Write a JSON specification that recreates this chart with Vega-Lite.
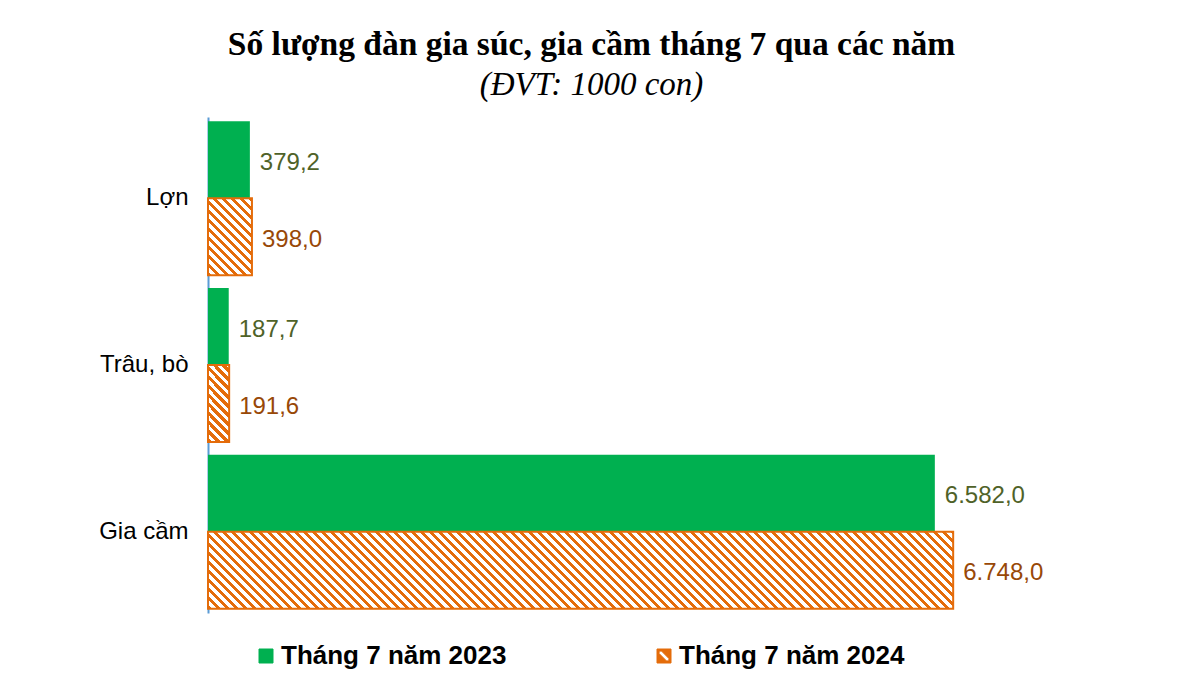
{
  "$schema": "https://vega.github.io/schema/vega-lite/v6.json",
  "width": 773,
  "height": 496,
  "autosize": {"type": "none"},
  "padding": {"left": 208, "top": 117, "right": 220, "bottom": 80},
  "background": "white",
  "title": {
    "text": "Số lượng đàn gia súc, gia cầm tháng 7 qua các năm",
    "subtitle": "(ĐVT: 1000 con)",
    "anchor": "middle",
    "dx": -3,
    "offset": 14,
    "font": "Liberation Serif",
    "fontSize": 33.5,
    "fontWeight": "bold",
    "color": "#000000",
    "subtitleFont": "Liberation Serif",
    "subtitleFontSize": 33,
    "subtitleFontStyle": "italic",
    "subtitleColor": "#000000",
    "subtitlePadding": 7
  },
  "data": {
    "values": [
      {"cat": "Lợn", "series": "Tháng 7 năm 2023", "value": 379.2},
      {"cat": "Lợn", "series": "Tháng 7 năm 2024", "value": 398.0},
      {"cat": "Trâu, bò", "series": "Tháng 7 năm 2023", "value": 187.7},
      {"cat": "Trâu, bò", "series": "Tháng 7 năm 2024", "value": 191.6},
      {"cat": "Gia cầm", "series": "Tháng 7 năm 2023", "value": 6582.0},
      {"cat": "Gia cầm", "series": "Tháng 7 năm 2024", "value": 6748.0}
    ]
  },
  "encoding": {
    "y": {
      "field": "cat",
      "type": "nominal",
      "sort": ["Lợn", "Trâu, bò", "Gia cầm"],
      "scale": {"paddingInner": 0.076, "paddingOuter": 0.026},
      "axis": {
        "title": null,
        "labelFont": "Liberation Sans",
        "labelFontSize": 24,
        "labelColor": "#000000",
        "ticks": false,
        "labelPadding": 20,
        "domainColor": "#5b9bd5",
        "domainWidth": 2,
        "labelLimit": 0
      }
    },
    "yOffset": {
      "field": "series",
      "type": "nominal",
      "scale": {"domain": ["Tháng 7 năm 2023", "Tháng 7 năm 2024"], "paddingInner": 0, "paddingOuter": 0}
    },
    "x": {
      "field": "value",
      "type": "quantitative",
      "scale": {"domain": [0, 7000], "nice": false},
      "axis": null
    }
  },
  "layer": [
    {
      "mark": {"type": "bar"},
      "encoding": {
        "fill": {
          "field": "series",
          "type": "nominal",
          "scale": {"domain": ["Tháng 7 năm 2023", "Tháng 7 năm 2024"], "range": ["#00b050", "#e46c0a"]},
          "legend": {
            "title": null,
            "orient": "none",
            "legendX": 45,
            "legendY": 526,
            "direction": "horizontal",
            "symbolType": "square",
            "symbolSize": 196,
            "labelFont": "Liberation Sans",
            "labelFontSize": 26,
            "labelFontWeight": "bold",
            "labelColor": "#000000",
            "labelOffset": 2,
            "columnPadding": 144,
            "padding": 0,
            "labelLimit": 0,
            "encode": {
              "symbols": {
                "update": {
                  "shape": [
                    {"test": "datum.value === 'Tháng 7 năm 2024'", "value": "M-1,-1L1,-1L1,1L-1,1Z M-0.7,-0.35L0.35,0.7L0.7,0.7L0.7,0.35L-0.35,-0.7L-0.7,-0.7Z"},
                    {"value": "square"}
                  ],
                  "stroke": [
                    {"test": "datum.value === 'Tháng 7 năm 2024'", "value": "#e46c0a"},
                    {"value": "#00b050"}
                  ],
                  "strokeWidth": {"value": 1},
                  "opacity": {"value": 1}
                }
              }
            }
          }
        }
      }
    },
    {
      "transform": [{"filter": "datum.cat === 'Gia cầm' && datum.series === 'Tháng 7 năm 2024'"}],
      "mark": {
        "type": "bar",
        "stroke": "#e46c0a",
        "strokeWidth": 2,
        "fill": {
          "gradient": "linear", "x1": 0, "y1": 1, "x2": 1.1949, "y2": 0.8765,
          "stops": [
{"offset":0,"color":"#e46c0a"},{"offset":0.0045,"color":"#e46c0a"},{"offset":0.0045,"color":"#fff"},{"offset":0.01,"color":"#fff"},
{"offset":0.01,"color":"#e46c0a"},{"offset":0.0145,"color":"#e46c0a"},{"offset":0.0145,"color":"#fff"},{"offset":0.02,"color":"#fff"},
{"offset":0.02,"color":"#e46c0a"},{"offset":0.0245,"color":"#e46c0a"},{"offset":0.0245,"color":"#fff"},{"offset":0.03,"color":"#fff"},
{"offset":0.03,"color":"#e46c0a"},{"offset":0.0345,"color":"#e46c0a"},{"offset":0.0345,"color":"#fff"},{"offset":0.04,"color":"#fff"},
{"offset":0.04,"color":"#e46c0a"},{"offset":0.0445,"color":"#e46c0a"},{"offset":0.0445,"color":"#fff"},{"offset":0.05,"color":"#fff"},
{"offset":0.05,"color":"#e46c0a"},{"offset":0.0545,"color":"#e46c0a"},{"offset":0.0545,"color":"#fff"},{"offset":0.06,"color":"#fff"},
{"offset":0.06,"color":"#e46c0a"},{"offset":0.0645,"color":"#e46c0a"},{"offset":0.0645,"color":"#fff"},{"offset":0.07,"color":"#fff"},
{"offset":0.07,"color":"#e46c0a"},{"offset":0.0745,"color":"#e46c0a"},{"offset":0.0745,"color":"#fff"},{"offset":0.08,"color":"#fff"},
{"offset":0.08,"color":"#e46c0a"},{"offset":0.0845,"color":"#e46c0a"},{"offset":0.0845,"color":"#fff"},{"offset":0.09,"color":"#fff"},
{"offset":0.09,"color":"#e46c0a"},{"offset":0.0945,"color":"#e46c0a"},{"offset":0.0945,"color":"#fff"},{"offset":0.1,"color":"#fff"},
{"offset":0.1,"color":"#e46c0a"},{"offset":0.1045,"color":"#e46c0a"},{"offset":0.1045,"color":"#fff"},{"offset":0.11,"color":"#fff"},
{"offset":0.11,"color":"#e46c0a"},{"offset":0.1145,"color":"#e46c0a"},{"offset":0.1145,"color":"#fff"},{"offset":0.12,"color":"#fff"},
{"offset":0.12,"color":"#e46c0a"},{"offset":0.1245,"color":"#e46c0a"},{"offset":0.1245,"color":"#fff"},{"offset":0.13,"color":"#fff"},
{"offset":0.13,"color":"#e46c0a"},{"offset":0.1345,"color":"#e46c0a"},{"offset":0.1345,"color":"#fff"},{"offset":0.14,"color":"#fff"},
{"offset":0.14,"color":"#e46c0a"},{"offset":0.1445,"color":"#e46c0a"},{"offset":0.1445,"color":"#fff"},{"offset":0.15,"color":"#fff"},
{"offset":0.15,"color":"#e46c0a"},{"offset":0.1545,"color":"#e46c0a"},{"offset":0.1545,"color":"#fff"},{"offset":0.16,"color":"#fff"},
{"offset":0.16,"color":"#e46c0a"},{"offset":0.1645,"color":"#e46c0a"},{"offset":0.1645,"color":"#fff"},{"offset":0.17,"color":"#fff"},
{"offset":0.17,"color":"#e46c0a"},{"offset":0.1745,"color":"#e46c0a"},{"offset":0.1745,"color":"#fff"},{"offset":0.18,"color":"#fff"},
{"offset":0.18,"color":"#e46c0a"},{"offset":0.1845,"color":"#e46c0a"},{"offset":0.1845,"color":"#fff"},{"offset":0.19,"color":"#fff"},
{"offset":0.19,"color":"#e46c0a"},{"offset":0.1945,"color":"#e46c0a"},{"offset":0.1945,"color":"#fff"},{"offset":0.2,"color":"#fff"},
{"offset":0.2,"color":"#e46c0a"},{"offset":0.2045,"color":"#e46c0a"},{"offset":0.2045,"color":"#fff"},{"offset":0.21,"color":"#fff"},
{"offset":0.21,"color":"#e46c0a"},{"offset":0.2145,"color":"#e46c0a"},{"offset":0.2145,"color":"#fff"},{"offset":0.22,"color":"#fff"},
{"offset":0.22,"color":"#e46c0a"},{"offset":0.2245,"color":"#e46c0a"},{"offset":0.2245,"color":"#fff"},{"offset":0.23,"color":"#fff"},
{"offset":0.23,"color":"#e46c0a"},{"offset":0.2345,"color":"#e46c0a"},{"offset":0.2345,"color":"#fff"},{"offset":0.24,"color":"#fff"},
{"offset":0.24,"color":"#e46c0a"},{"offset":0.2445,"color":"#e46c0a"},{"offset":0.2445,"color":"#fff"},{"offset":0.25,"color":"#fff"},
{"offset":0.25,"color":"#e46c0a"},{"offset":0.2545,"color":"#e46c0a"},{"offset":0.2545,"color":"#fff"},{"offset":0.26,"color":"#fff"},
{"offset":0.26,"color":"#e46c0a"},{"offset":0.2645,"color":"#e46c0a"},{"offset":0.2645,"color":"#fff"},{"offset":0.27,"color":"#fff"},
{"offset":0.27,"color":"#e46c0a"},{"offset":0.2745,"color":"#e46c0a"},{"offset":0.2745,"color":"#fff"},{"offset":0.28,"color":"#fff"},
{"offset":0.28,"color":"#e46c0a"},{"offset":0.2845,"color":"#e46c0a"},{"offset":0.2845,"color":"#fff"},{"offset":0.29,"color":"#fff"},
{"offset":0.29,"color":"#e46c0a"},{"offset":0.2945,"color":"#e46c0a"},{"offset":0.2945,"color":"#fff"},{"offset":0.3,"color":"#fff"},
{"offset":0.3,"color":"#e46c0a"},{"offset":0.3045,"color":"#e46c0a"},{"offset":0.3045,"color":"#fff"},{"offset":0.31,"color":"#fff"},
{"offset":0.31,"color":"#e46c0a"},{"offset":0.3145,"color":"#e46c0a"},{"offset":0.3145,"color":"#fff"},{"offset":0.32,"color":"#fff"},
{"offset":0.32,"color":"#e46c0a"},{"offset":0.3245,"color":"#e46c0a"},{"offset":0.3245,"color":"#fff"},{"offset":0.33,"color":"#fff"},
{"offset":0.33,"color":"#e46c0a"},{"offset":0.3345,"color":"#e46c0a"},{"offset":0.3345,"color":"#fff"},{"offset":0.34,"color":"#fff"},
{"offset":0.34,"color":"#e46c0a"},{"offset":0.3445,"color":"#e46c0a"},{"offset":0.3445,"color":"#fff"},{"offset":0.35,"color":"#fff"},
{"offset":0.35,"color":"#e46c0a"},{"offset":0.3545,"color":"#e46c0a"},{"offset":0.3545,"color":"#fff"},{"offset":0.36,"color":"#fff"},
{"offset":0.36,"color":"#e46c0a"},{"offset":0.3645,"color":"#e46c0a"},{"offset":0.3645,"color":"#fff"},{"offset":0.37,"color":"#fff"},
{"offset":0.37,"color":"#e46c0a"},{"offset":0.3745,"color":"#e46c0a"},{"offset":0.3745,"color":"#fff"},{"offset":0.38,"color":"#fff"},
{"offset":0.38,"color":"#e46c0a"},{"offset":0.3845,"color":"#e46c0a"},{"offset":0.3845,"color":"#fff"},{"offset":0.39,"color":"#fff"},
{"offset":0.39,"color":"#e46c0a"},{"offset":0.3945,"color":"#e46c0a"},{"offset":0.3945,"color":"#fff"},{"offset":0.4,"color":"#fff"},
{"offset":0.4,"color":"#e46c0a"},{"offset":0.4045,"color":"#e46c0a"},{"offset":0.4045,"color":"#fff"},{"offset":0.41,"color":"#fff"},
{"offset":0.41,"color":"#e46c0a"},{"offset":0.4145,"color":"#e46c0a"},{"offset":0.4145,"color":"#fff"},{"offset":0.42,"color":"#fff"},
{"offset":0.42,"color":"#e46c0a"},{"offset":0.4245,"color":"#e46c0a"},{"offset":0.4245,"color":"#fff"},{"offset":0.43,"color":"#fff"},
{"offset":0.43,"color":"#e46c0a"},{"offset":0.4345,"color":"#e46c0a"},{"offset":0.4345,"color":"#fff"},{"offset":0.44,"color":"#fff"},
{"offset":0.44,"color":"#e46c0a"},{"offset":0.4445,"color":"#e46c0a"},{"offset":0.4445,"color":"#fff"},{"offset":0.45,"color":"#fff"},
{"offset":0.45,"color":"#e46c0a"},{"offset":0.4545,"color":"#e46c0a"},{"offset":0.4545,"color":"#fff"},{"offset":0.46,"color":"#fff"},
{"offset":0.46,"color":"#e46c0a"},{"offset":0.4645,"color":"#e46c0a"},{"offset":0.4645,"color":"#fff"},{"offset":0.47,"color":"#fff"},
{"offset":0.47,"color":"#e46c0a"},{"offset":0.4745,"color":"#e46c0a"},{"offset":0.4745,"color":"#fff"},{"offset":0.48,"color":"#fff"},
{"offset":0.48,"color":"#e46c0a"},{"offset":0.4845,"color":"#e46c0a"},{"offset":0.4845,"color":"#fff"},{"offset":0.49,"color":"#fff"},
{"offset":0.49,"color":"#e46c0a"},{"offset":0.4945,"color":"#e46c0a"},{"offset":0.4945,"color":"#fff"},{"offset":0.5,"color":"#fff"},
{"offset":0.5,"color":"#e46c0a"},{"offset":0.5045,"color":"#e46c0a"},{"offset":0.5045,"color":"#fff"},{"offset":0.51,"color":"#fff"},
{"offset":0.51,"color":"#e46c0a"},{"offset":0.5145,"color":"#e46c0a"},{"offset":0.5145,"color":"#fff"},{"offset":0.52,"color":"#fff"},
{"offset":0.52,"color":"#e46c0a"},{"offset":0.5245,"color":"#e46c0a"},{"offset":0.5245,"color":"#fff"},{"offset":0.53,"color":"#fff"},
{"offset":0.53,"color":"#e46c0a"},{"offset":0.5345,"color":"#e46c0a"},{"offset":0.5345,"color":"#fff"},{"offset":0.54,"color":"#fff"},
{"offset":0.54,"color":"#e46c0a"},{"offset":0.5445,"color":"#e46c0a"},{"offset":0.5445,"color":"#fff"},{"offset":0.55,"color":"#fff"},
{"offset":0.55,"color":"#e46c0a"},{"offset":0.5545,"color":"#e46c0a"},{"offset":0.5545,"color":"#fff"},{"offset":0.56,"color":"#fff"},
{"offset":0.56,"color":"#e46c0a"},{"offset":0.5645,"color":"#e46c0a"},{"offset":0.5645,"color":"#fff"},{"offset":0.57,"color":"#fff"},
{"offset":0.57,"color":"#e46c0a"},{"offset":0.5745,"color":"#e46c0a"},{"offset":0.5745,"color":"#fff"},{"offset":0.58,"color":"#fff"},
{"offset":0.58,"color":"#e46c0a"},{"offset":0.5845,"color":"#e46c0a"},{"offset":0.5845,"color":"#fff"},{"offset":0.59,"color":"#fff"},
{"offset":0.59,"color":"#e46c0a"},{"offset":0.5945,"color":"#e46c0a"},{"offset":0.5945,"color":"#fff"},{"offset":0.6,"color":"#fff"},
{"offset":0.6,"color":"#e46c0a"},{"offset":0.6045,"color":"#e46c0a"},{"offset":0.6045,"color":"#fff"},{"offset":0.61,"color":"#fff"},
{"offset":0.61,"color":"#e46c0a"},{"offset":0.6145,"color":"#e46c0a"},{"offset":0.6145,"color":"#fff"},{"offset":0.62,"color":"#fff"},
{"offset":0.62,"color":"#e46c0a"},{"offset":0.6245,"color":"#e46c0a"},{"offset":0.6245,"color":"#fff"},{"offset":0.63,"color":"#fff"},
{"offset":0.63,"color":"#e46c0a"},{"offset":0.6345,"color":"#e46c0a"},{"offset":0.6345,"color":"#fff"},{"offset":0.64,"color":"#fff"},
{"offset":0.64,"color":"#e46c0a"},{"offset":0.6445,"color":"#e46c0a"},{"offset":0.6445,"color":"#fff"},{"offset":0.65,"color":"#fff"},
{"offset":0.65,"color":"#e46c0a"},{"offset":0.6545,"color":"#e46c0a"},{"offset":0.6545,"color":"#fff"},{"offset":0.66,"color":"#fff"},
{"offset":0.66,"color":"#e46c0a"},{"offset":0.6645,"color":"#e46c0a"},{"offset":0.6645,"color":"#fff"},{"offset":0.67,"color":"#fff"},
{"offset":0.67,"color":"#e46c0a"},{"offset":0.6745,"color":"#e46c0a"},{"offset":0.6745,"color":"#fff"},{"offset":0.68,"color":"#fff"},
{"offset":0.68,"color":"#e46c0a"},{"offset":0.6845,"color":"#e46c0a"},{"offset":0.6845,"color":"#fff"},{"offset":0.69,"color":"#fff"},
{"offset":0.69,"color":"#e46c0a"},{"offset":0.6945,"color":"#e46c0a"},{"offset":0.6945,"color":"#fff"},{"offset":0.7,"color":"#fff"},
{"offset":0.7,"color":"#e46c0a"},{"offset":0.7045,"color":"#e46c0a"},{"offset":0.7045,"color":"#fff"},{"offset":0.71,"color":"#fff"},
{"offset":0.71,"color":"#e46c0a"},{"offset":0.7145,"color":"#e46c0a"},{"offset":0.7145,"color":"#fff"},{"offset":0.72,"color":"#fff"},
{"offset":0.72,"color":"#e46c0a"},{"offset":0.7245,"color":"#e46c0a"},{"offset":0.7245,"color":"#fff"},{"offset":0.73,"color":"#fff"},
{"offset":0.73,"color":"#e46c0a"},{"offset":0.7345,"color":"#e46c0a"},{"offset":0.7345,"color":"#fff"},{"offset":0.74,"color":"#fff"},
{"offset":0.74,"color":"#e46c0a"},{"offset":0.7445,"color":"#e46c0a"},{"offset":0.7445,"color":"#fff"},{"offset":0.75,"color":"#fff"},
{"offset":0.75,"color":"#e46c0a"},{"offset":0.7545,"color":"#e46c0a"},{"offset":0.7545,"color":"#fff"},{"offset":0.76,"color":"#fff"},
{"offset":0.76,"color":"#e46c0a"},{"offset":0.7645,"color":"#e46c0a"},{"offset":0.7645,"color":"#fff"},{"offset":0.77,"color":"#fff"},
{"offset":0.77,"color":"#e46c0a"},{"offset":0.7745,"color":"#e46c0a"},{"offset":0.7745,"color":"#fff"},{"offset":0.78,"color":"#fff"},
{"offset":0.78,"color":"#e46c0a"},{"offset":0.7845,"color":"#e46c0a"},{"offset":0.7845,"color":"#fff"},{"offset":0.79,"color":"#fff"},
{"offset":0.79,"color":"#e46c0a"},{"offset":0.7945,"color":"#e46c0a"},{"offset":0.7945,"color":"#fff"},{"offset":0.8,"color":"#fff"},
{"offset":0.8,"color":"#e46c0a"},{"offset":0.8045,"color":"#e46c0a"},{"offset":0.8045,"color":"#fff"},{"offset":0.81,"color":"#fff"},
{"offset":0.81,"color":"#e46c0a"},{"offset":0.8145,"color":"#e46c0a"},{"offset":0.8145,"color":"#fff"},{"offset":0.82,"color":"#fff"},
{"offset":0.82,"color":"#e46c0a"},{"offset":0.8245,"color":"#e46c0a"},{"offset":0.8245,"color":"#fff"},{"offset":0.83,"color":"#fff"},
{"offset":0.83,"color":"#e46c0a"},{"offset":0.8345,"color":"#e46c0a"},{"offset":0.8345,"color":"#fff"},{"offset":0.84,"color":"#fff"},
{"offset":0.84,"color":"#e46c0a"},{"offset":0.8445,"color":"#e46c0a"},{"offset":0.8445,"color":"#fff"},{"offset":0.85,"color":"#fff"},
{"offset":0.85,"color":"#e46c0a"},{"offset":0.8545,"color":"#e46c0a"},{"offset":0.8545,"color":"#fff"},{"offset":0.86,"color":"#fff"},
{"offset":0.86,"color":"#e46c0a"},{"offset":0.8645,"color":"#e46c0a"},{"offset":0.8645,"color":"#fff"},{"offset":0.87,"color":"#fff"},
{"offset":0.87,"color":"#e46c0a"},{"offset":0.8745,"color":"#e46c0a"},{"offset":0.8745,"color":"#fff"},{"offset":0.88,"color":"#fff"},
{"offset":0.88,"color":"#e46c0a"},{"offset":0.8845,"color":"#e46c0a"},{"offset":0.8845,"color":"#fff"},{"offset":0.89,"color":"#fff"},
{"offset":0.89,"color":"#e46c0a"},{"offset":0.8945,"color":"#e46c0a"},{"offset":0.8945,"color":"#fff"},{"offset":0.9,"color":"#fff"},
{"offset":0.9,"color":"#e46c0a"},{"offset":0.9045,"color":"#e46c0a"},{"offset":0.9045,"color":"#fff"},{"offset":0.91,"color":"#fff"},
{"offset":0.91,"color":"#e46c0a"},{"offset":0.9145,"color":"#e46c0a"},{"offset":0.9145,"color":"#fff"},{"offset":0.92,"color":"#fff"}
          ]
        }
      }
    },
    {
      "transform": [{"filter": "datum.cat === 'Lợn' && datum.series === 'Tháng 7 năm 2024'"}],
      "mark": {
        "type": "bar",
        "stroke": "#e46c0a",
        "strokeWidth": 2,
        "fill": {
          "gradient": "linear", "x1": 0, "y1": 1, "x2": 5.0321, "y2": -7.8161,
          "stops": [
{"offset":0,"color":"#e46c0a"},{"offset":0.0045,"color":"#e46c0a"},{"offset":0.0045,"color":"#fff"},{"offset":0.01,"color":"#fff"},
{"offset":0.01,"color":"#e46c0a"},{"offset":0.0145,"color":"#e46c0a"},{"offset":0.0145,"color":"#fff"},{"offset":0.02,"color":"#fff"},
{"offset":0.02,"color":"#e46c0a"},{"offset":0.0245,"color":"#e46c0a"},{"offset":0.0245,"color":"#fff"},{"offset":0.03,"color":"#fff"},
{"offset":0.03,"color":"#e46c0a"},{"offset":0.0345,"color":"#e46c0a"},{"offset":0.0345,"color":"#fff"},{"offset":0.04,"color":"#fff"},
{"offset":0.04,"color":"#e46c0a"},{"offset":0.0445,"color":"#e46c0a"},{"offset":0.0445,"color":"#fff"},{"offset":0.05,"color":"#fff"},
{"offset":0.05,"color":"#e46c0a"},{"offset":0.0545,"color":"#e46c0a"},{"offset":0.0545,"color":"#fff"},{"offset":0.06,"color":"#fff"},
{"offset":0.06,"color":"#e46c0a"},{"offset":0.0645,"color":"#e46c0a"},{"offset":0.0645,"color":"#fff"},{"offset":0.07,"color":"#fff"},
{"offset":0.07,"color":"#e46c0a"},{"offset":0.0745,"color":"#e46c0a"},{"offset":0.0745,"color":"#fff"},{"offset":0.08,"color":"#fff"},
{"offset":0.08,"color":"#e46c0a"},{"offset":0.0845,"color":"#e46c0a"},{"offset":0.0845,"color":"#fff"},{"offset":0.09,"color":"#fff"},
{"offset":0.09,"color":"#e46c0a"},{"offset":0.0945,"color":"#e46c0a"},{"offset":0.0945,"color":"#fff"},{"offset":0.1,"color":"#fff"},
{"offset":0.1,"color":"#e46c0a"},{"offset":0.1045,"color":"#e46c0a"},{"offset":0.1045,"color":"#fff"},{"offset":0.11,"color":"#fff"},
{"offset":0.11,"color":"#e46c0a"},{"offset":0.1145,"color":"#e46c0a"},{"offset":0.1145,"color":"#fff"},{"offset":0.12,"color":"#fff"},
{"offset":0.12,"color":"#e46c0a"},{"offset":0.1245,"color":"#e46c0a"},{"offset":0.1245,"color":"#fff"},{"offset":0.13,"color":"#fff"},
{"offset":0.13,"color":"#e46c0a"},{"offset":0.1345,"color":"#e46c0a"},{"offset":0.1345,"color":"#fff"},{"offset":0.14,"color":"#fff"},
{"offset":0.14,"color":"#e46c0a"},{"offset":0.1445,"color":"#e46c0a"},{"offset":0.1445,"color":"#fff"},{"offset":0.15,"color":"#fff"}
          ]
        }
      }
    },
    {
      "transform": [{"filter": "datum.cat === 'Trâu, bò' && datum.series === 'Tháng 7 năm 2024'"}],
      "mark": {
        "type": "bar",
        "stroke": "#e46c0a",
        "strokeWidth": 2,
        "fill": {
          "gradient": "linear", "x1": 0, "y1": 1, "x2": 2.9865, "y2": -9.8677,
          "stops": [
{"offset":0,"color":"#e46c0a"},{"offset":0.0045,"color":"#e46c0a"},{"offset":0.0045,"color":"#fff"},{"offset":0.01,"color":"#fff"},
{"offset":0.01,"color":"#e46c0a"},{"offset":0.0145,"color":"#e46c0a"},{"offset":0.0145,"color":"#fff"},{"offset":0.02,"color":"#fff"},
{"offset":0.02,"color":"#e46c0a"},{"offset":0.0245,"color":"#e46c0a"},{"offset":0.0245,"color":"#fff"},{"offset":0.03,"color":"#fff"},
{"offset":0.03,"color":"#e46c0a"},{"offset":0.0345,"color":"#e46c0a"},{"offset":0.0345,"color":"#fff"},{"offset":0.04,"color":"#fff"},
{"offset":0.04,"color":"#e46c0a"},{"offset":0.0445,"color":"#e46c0a"},{"offset":0.0445,"color":"#fff"},{"offset":0.05,"color":"#fff"},
{"offset":0.05,"color":"#e46c0a"},{"offset":0.0545,"color":"#e46c0a"},{"offset":0.0545,"color":"#fff"},{"offset":0.06,"color":"#fff"},
{"offset":0.06,"color":"#e46c0a"},{"offset":0.0645,"color":"#e46c0a"},{"offset":0.0645,"color":"#fff"},{"offset":0.07,"color":"#fff"},
{"offset":0.07,"color":"#e46c0a"},{"offset":0.0745,"color":"#e46c0a"},{"offset":0.0745,"color":"#fff"},{"offset":0.08,"color":"#fff"},
{"offset":0.08,"color":"#e46c0a"},{"offset":0.0845,"color":"#e46c0a"},{"offset":0.0845,"color":"#fff"},{"offset":0.09,"color":"#fff"},
{"offset":0.09,"color":"#e46c0a"},{"offset":0.0945,"color":"#e46c0a"},{"offset":0.0945,"color":"#fff"},{"offset":0.1,"color":"#fff"},
{"offset":0.1,"color":"#e46c0a"},{"offset":0.1045,"color":"#e46c0a"},{"offset":0.1045,"color":"#fff"},{"offset":0.11,"color":"#fff"},
{"offset":0.11,"color":"#e46c0a"},{"offset":0.1145,"color":"#e46c0a"},{"offset":0.1145,"color":"#fff"},{"offset":0.12,"color":"#fff"}
          ]
        }
      }
    },
    {
      "mark": {"type": "text", "align": "left", "baseline": "middle", "dx": 10, "dy": 3, "font": "Liberation Sans", "fontSize": 24},
      "encoding": {
        "text": {"field": "value", "type": "quantitative", "format": ",.1f"},
        "color": {"condition": {"test": "datum.series === 'Tháng 7 năm 2023'", "value": "#4f6228"}, "value": "#984807"}
      }
    }
  ],
  "config": {
    "view": {"stroke": null},
    "locale": {"number": {"decimal": ",", "thousands": ".", "grouping": [3], "currency": ["", ""]}}
  }
}
